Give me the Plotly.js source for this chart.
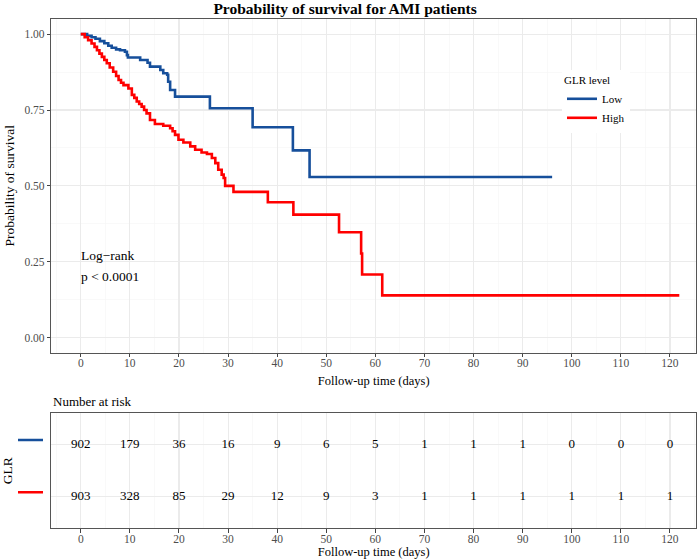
<!DOCTYPE html>
<html>
<head>
<meta charset="utf-8">
<script src="https://cdn.plot.ly/plotly-3.0.1.min.js"></script>
<style>html,body{margin:0;padding:0;background:#fff}#chart{width:700px;height:559px}</style>
</head>
<body>
<div id="chart"></div>
<script>
// ---- Data ----
const lowTime = [0, 1.3, 2.2, 3.0, 3.9, 4.8, 5.6, 6.3, 7.2, 8.0, 9.0, 9.4, 9.6, 12.1, 13.6, 14.1, 16.2, 16.8, 17.6, 17.8, 18.2, 19.2, 26.3, 35.0, 43.2, 46.6, 96.0];
const lowSurv = [1, 0.995, 0.99, 0.985, 0.977, 0.97, 0.962, 0.955, 0.95, 0.947, 0.942, 0.931, 0.923, 0.915, 0.906, 0.893, 0.882, 0.871, 0.866, 0.843, 0.816, 0.794, 0.756, 0.693, 0.617, 0.529, 0.529];

const highTime = [0, 0.8, 1.5, 2.2, 2.8, 3.3, 3.8, 4.3, 4.8, 5.3, 5.9, 6.6, 7.2, 7.7, 8.2, 8.7, 9.7, 10.4, 10.9, 11.4, 11.9, 12.4, 12.9, 13.4, 14.1, 15.1, 16.8, 18.2, 18.7, 19.2, 19.9, 20.9, 22.3, 23.3, 24.6, 25.7, 26.7, 27.4, 28.0, 28.7, 29.1, 29.4, 31.1, 38.1, 43.3, 52.6, 57.1, 57.3, 61.4, 121.9];
const highSurv = [1, 0.99, 0.98, 0.969, 0.958, 0.947, 0.936, 0.925, 0.915, 0.904, 0.89, 0.876, 0.862, 0.849, 0.84, 0.832, 0.821, 0.80, 0.79, 0.778, 0.77, 0.761, 0.75, 0.739, 0.717, 0.704, 0.698, 0.69, 0.68, 0.668, 0.652, 0.643, 0.63, 0.619, 0.61, 0.605, 0.592, 0.575, 0.553, 0.537, 0.526, 0.50, 0.48, 0.446, 0.405, 0.347, 0.277, 0.208, 0.139, 0.139];

const riskTimes = [0, 10, 20, 30, 40, 50, 60, 70, 80, 90, 100, 110, 120];
const riskLow  = [902, 179, 36, 16, 9, 6, 5, 1, 1, 1, 0, 0, 0];
const riskHigh = [903, 328, 85, 29, 12, 9, 3, 1, 1, 1, 1, 1, 1];

const groupNames = ["Low", "High"];
const yTickVals = [0, 0.25, 0.5, 0.75, 1];
const yTickText = ["0.00", "0.25", "0.50", "0.75", "1.00"];

// ---- Styling ----
const BLUE = "#164f9b";
const RED = "#ff0000";
const FONT = "Liberation Serif, Times New Roman, serif";
const W = 700, H = 559;
const xDom = [51.3 / W, 696 / W];
const xRange = [-6, 125.3];

const traces = [
  {x: lowTime, y: lowSurv, type: "scatter", mode: "lines", line: {shape: "hv", color: BLUE, width: 2.6}, name: groupNames[0], xaxis: "x", yaxis: "y"},
  {x: highTime, y: highSurv, type: "scatter", mode: "lines", line: {shape: "hv", color: RED, width: 2.6}, name: groupNames[1], xaxis: "x", yaxis: "y"},
  {x: riskTimes, y: riskTimes.map(() => 2), text: riskLow.map(String), type: "scatter", mode: "text",
   textfont: {family: FONT, size: 13, color: "#000"}, showlegend: false, xaxis: "x2", yaxis: "y2", hoverinfo: "skip"},
  {x: riskTimes, y: riskTimes.map(() => 1), text: riskHigh.map(String), type: "scatter", mode: "text",
   textfont: {family: FONT, size: 13, color: "#000"}, showlegend: false, xaxis: "x2", yaxis: "y2", hoverinfo: "skip"}
];

const gridMajor = "#ebebeb", gridMinor = "#f5f5f5";
const axisCommon = {
  showline: true, mirror: true, linecolor: "#555", linewidth: 1,
  ticks: "outside", ticklen: 3.5, tickcolor: "#444", tickwidth: 1,
  tickfont: {family: FONT, size: 11.5, color: "#4d4d4d"},
  showgrid: true, gridcolor: gridMajor, gridwidth: 1.1,
  zeroline: false, automargin: false
};

const layout = {
  width: W, height: H,
  margin: {l: 0, r: 0, t: 0, b: 0},
  paper_bgcolor: "#fff", plot_bgcolor: "#fff",
  font: {family: FONT, color: "#000"},
  title: {text: "Probability of survival for AMI patients", x: 0.493, xanchor: "center", xref: "paper",
          y: 1 - 9 / H, yanchor: "middle", yref: "container",
          font: {family: FONT, size: 15.5, weight: "bold", color: "#000"}},
  xaxis: Object.assign({}, axisCommon, {
    domain: xDom, range: xRange, anchor: "y", tick0: 0, dtick: 10, ticklabelstandoff: -4,
    minor: {dtick: 5, tick0: 0, showgrid: true, gridcolor: gridMinor, gridwidth: 0.6, ticks: ""},
    title: {text: "Follow-up time (days)", font: {family: FONT, size: 12.5, color: "#000"}, standoff: 8}
  }),
  yaxis: Object.assign({}, axisCommon, {
    domain: [1 - 352.7 / H, 1 - 19 / H], range: [-0.05, 1.05], anchor: "x",
    tickvals: yTickVals, ticktext: yTickText,
    minor: {dtick: 0.125, tick0: 0, showgrid: true, gridcolor: gridMinor, gridwidth: 0.6, ticks: ""},
    title: {text: "Probability of survival", font: {family: FONT, size: 13.5, color: "#000"}, standoff: 6}
  }),
  xaxis2: Object.assign({}, axisCommon, {
    domain: xDom, range: xRange, anchor: "y2", tick0: 0, dtick: 10, ticklabelstandoff: -4,
    minor: {dtick: 5, tick0: 0, showgrid: true, gridcolor: gridMinor, gridwidth: 0.6, ticks: ""},
    title: {text: "Follow-up time (days)", font: {family: FONT, size: 12.5, color: "#000"}, standoff: 7}
  }),
  yaxis2: Object.assign({}, axisCommon, {
    domain: [1 - 528.3 / H, 1 - 413.3 / H], range: [0.4, 2.6], anchor: "x2",
    tickvals: [1, 2], showticklabels: false, ticks: "",
    title: {text: "GLR", font: {family: FONT, size: 13.5, color: "#000"}, standoff: 34}
  }),
  showlegend: true,
  legend: {
    x: 562 / W, xanchor: "left", y: 1 - 70 / H, yanchor: "top",
    bgcolor: "#fff", borderwidth: 0,
    title: {text: "GLR level", font: {family: FONT, size: 11, color: "#000"}},
    font: {family: FONT, size: 11, color: "#000"},
    tracegroupgap: 0, itemwidth: 30
  },
  annotations: [
    {text: "Log\u2212rank", xref: "x", yref: "y", x: 0, y: 0.27, xanchor: "left", yanchor: "middle", showarrow: false, xshift: -2,
     font: {family: FONT, size: 13.5, color: "#000"}},
    {text: "p < 0.0001", xref: "x", yref: "y", x: 0, y: 0.2015, xanchor: "left", yanchor: "middle", showarrow: false, xshift: -2,
     font: {family: FONT, size: 13.5, color: "#000"}},
    {text: "Number at risk", xref: "paper", yref: "paper", x: 51 / W, y: 1 - 401 / H, xanchor: "left", yanchor: "middle", showarrow: false,
     font: {family: FONT, size: 13, color: "#000"}}
  ],
  shapes: [
    {type: "line", xref: "paper", yref: "y2", x0: 18 / W, x1: 43 / W, y0: 2.09, y1: 2.09, line: {color: BLUE, width: 2.6}},
    {type: "line", xref: "paper", yref: "y2", x0: 18 / W, x1: 43 / W, y0: 1.09, y1: 1.09, line: {color: RED, width: 2.6}}
  ],
  hovermode: false
};

Plotly.newPlot("chart", traces, layout, {displayModeBar: false, staticPlot: true});
</script>
</body>
</html>
